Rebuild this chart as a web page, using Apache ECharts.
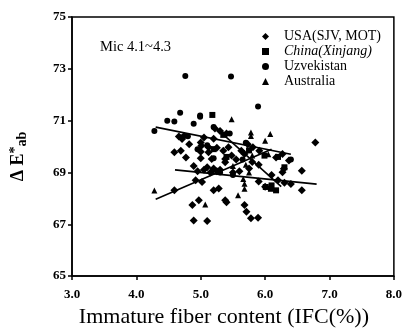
<!DOCTYPE html>
<html><head><meta charset="utf-8">
<script src="https://cdn.jsdelivr.net/npm/echarts@6/dist/echarts.min.js"></script>
<style>html,body{margin:0;padding:0;background:#fff}#c{width:405px;height:333px}</style>
</head><body><div id="c"></div>
<script>
var seriesNames = ['USA(SJV, MOT)', 'China(Xinjang)', 'Uzvekistan', 'Australia'];
var xTickLabels = ['3.0','4.0','5.0','6.0','7.0','8.0'];
var yTickLabels = ['65','67','69','71','73','75'];

var usaPts = [[4.66,70.39],[4.74,70.41],[4.71,70.29],[4.82,70.09],[5.0,70.16],[5.01,70.03],[4.59,69.78],[4.69,69.84],[4.77,69.58],[5.0,69.8],[5.12,69.78],[5.12,69.97],[5.0,69.55],[5.17,69.52],[5.35,69.84],[5.43,69.97],[5.38,69.52],[5.38,69.39],[5.48,69.65],[5.63,69.84],[5.68,69.71],[5.73,70.09],[5.81,69.97],[5.91,69.84],[6.17,69.58],[6.27,69.71],[6.37,69.46],[6.29,69.14],[6.27,69.01],[6.57,69.07],[6.57,68.31],[6.78,70.16],[4.59,68.31],[4.89,69.25],[4.95,69.05],[5.05,69.1],[5.1,69.2],[5.15,69.0],[5.2,69.15],[5.25,69.05],[5.3,69.1],[5.5,69.0],[5.6,69.05],[5.75,69.15],[4.92,68.7],[5.02,68.63],[5.2,68.31],[5.28,68.38],[4.97,67.93],[4.87,67.74],[5.38,67.93],[5.4,67.85],[5.68,67.74],[5.71,67.48],[5.78,67.23],[5.89,67.25],[4.89,67.15],[5.1,67.13],[5.9,68.65],[6.0,68.45],[6.3,68.6],[6.4,68.55],[5.22,70.7],[5.3,70.6],[5.4,70.5],[5.55,69.5],[5.8,69.4],[5.9,69.3],[6.1,68.9],[6.2,68.7],[5.25,69.95],[5.2,70.3],[5.05,70.35]];
var chinaPts = [[5.18,71.22],[5.99,69.65],[6.01,68.44],[6.09,68.37],[6.17,68.31],[6.2,69.6],[5.2,69.9],[5.35,70.45],[6.3,69.2],[5.75,69.85],[5.4,69.6],[6.1,68.5]];
var uzbPts = [[4.76,72.72],[5.47,72.7],[5.89,71.55],[4.68,71.3],[4.99,71.2],[4.99,71.15],[4.48,71.0],[4.59,70.97],[4.89,70.88],[4.28,70.6],[4.8,70.4],[4.7,70.35],[5.2,70.75],[5.45,70.5],[5.2,69.55],[5.3,69.0],[5.5,68.9],[5.65,69.5],[5.7,70.15],[6.4,69.5],[4.95,69.9],[5.1,70.05]];
var ausPts = [[5.48,71.05],[5.78,70.54],[5.78,70.41],[6.08,70.48],[6.0,70.22],[4.28,68.3],[5.07,67.76],[5.58,68.12],[5.68,68.56],[5.68,68.37],[5.66,68.75],[5.75,69.0],[5.5,69.25],[5.8,69.65],[6.05,69.7],[5.7,69.3]];

var trendA = [[4.3,70.75],[6.4,69.7]];
var trendB = [[4.6,69.1],[6.8,68.55]];
var trendC = [[4.3,67.97],[6.1,69.9]];
var trendD = [[5.2,70.8],[6.25,68.45]];

var serif = '"Liberation Serif","DejaVu Serif",serif';
var chart = echarts.init(document.getElementById('c'), null, {renderer:'canvas'});

function sc(name, data, symbol, size){
  return {type:'scatter', name:name, data:data, symbol:symbol, symbolSize:size,
    itemStyle:{color:'#000', opacity:1}, z:3};
}
function ln(data){
  return {type:'line', data:data, symbol:'none', silent:true,
    lineStyle:{color:'#000', width:1.6}, z:4};
}

chart.setOption({
  animation:false,
  backgroundColor:'#fff',
  grid:{left:68, right:10, top:17, bottom:55, show:true, borderColor:'#000', borderWidth:1.5, backgroundColor:'transparent'},
  xAxis:{type:'value', min:3, max:8, interval:1,
    axisLine:{lineStyle:{color:'#000', width:1.5}},
    axisTick:{inside:false, length:4, lineStyle:{color:'#000', width:1.5}},
    splitLine:{show:false},
    axisLabel:{color:'#000', fontFamily:serif, fontWeight:'bold', fontSize:13, margin:12,
      formatter:function(v){ return xTickLabels[Math.round(v-3)]; }},
    name:'Immature fiber content (IFC(%))', nameLocation:'middle', nameGap:23,
    nameTextStyle:{color:'#000', fontFamily:serif, fontSize:22, padding:[0,18,0,0]}
  },
  yAxis:{type:'value', min:65, max:75, interval:2,
    axisLine:{lineStyle:{color:'#000', width:1.5}},
    axisTick:{inside:false, length:4, lineStyle:{color:'#000', width:1.5}},
    splitLine:{show:false},
    axisLabel:{color:'#000', fontFamily:serif, fontWeight:'bold', fontSize:13, margin:6,
      formatter:function(v){ return yTickLabels[Math.round((v-65)/2)]; }},
    name:'{n|Δ E}{sup|*}{sub|ab}', nameLocation:'middle', nameGap:43, nameRotate:90,
    nameTextStyle:{color:'#000', padding:[0,20,0,0],
      rich:{n:{fontFamily:serif, fontWeight:'bold', fontSize:18, color:'#000'},
            sup:{fontFamily:serif, fontWeight:'bold', fontSize:14, color:'#000', padding:[0,0,7,0]},
            sub:{fontFamily:serif, fontWeight:'bold', fontSize:14, color:'#000', padding:[7,0,0,0]}}}
  },
  legend:{orient:'vertical', left:257, top:24, itemGap:0, itemWidth:7, itemHeight:7,
    data:seriesNames,
    textStyle:{color:'#000', fontFamily:serif, fontSize:14, lineHeight:15, padding:[0,0,0,10],
      rich:{i:{fontFamily:serif, fontSize:14, lineHeight:15, fontStyle:'italic', color:'#000'}}},
    formatter:function(n){ return n===seriesNames[1] ? '{i|'+n+'}' : n; }
  },
  graphic:[{type:'text', left:100, top:40, style:{text:'Mic 4.1~4.3', font:'14.5px '+serif, fill:'#000'}}],
  series:[
    sc(seriesNames[0], usaPts, 'diamond', 8),
    sc(seriesNames[1], chinaPts, 'rect', 6),
    sc(seriesNames[2], uzbPts, 'circle', 6),
    sc(seriesNames[3], ausPts, 'triangle', 6),
    ln(trendA), ln(trendB), ln(trendC), ln(trendD)
  ]
});
</script></body></html>
